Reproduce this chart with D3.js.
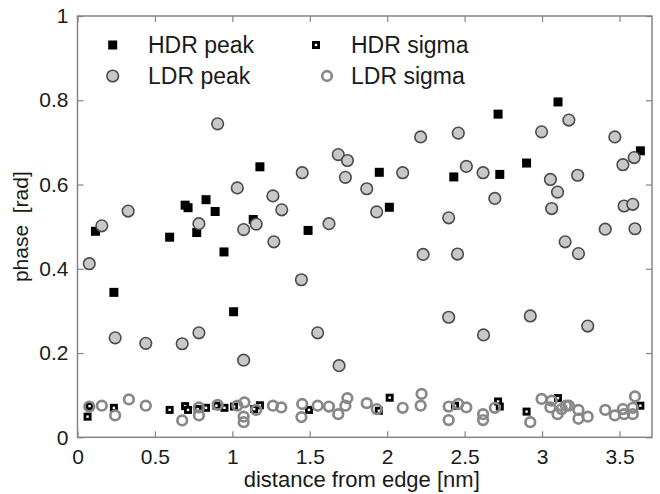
<!DOCTYPE html>
<html><head><meta charset="utf-8">
<script src="https://cdn.jsdelivr.net/npm/d3@7"></script>
<style>
body{margin:0;background:#fff;}
svg text{font-family:"Liberation Sans",Arial,Helvetica,sans-serif;}
</style></head>
<body><svg id="c" width="660" height="494"></svg>
<script>
const hdrPeakX = [0.116,0.235,0.595,0.695,0.714,0.770,0.830,0.889,0.946,1.008,1.135,1.178,1.489,1.949,2.014,2.430,2.716,2.727,2.900,3.103,3.635];
const hdrPeakY = [0.489,0.344,0.475,0.551,0.545,0.486,0.564,0.536,0.440,0.298,0.517,0.642,0.491,0.629,0.546,0.618,0.767,0.624,0.651,0.796,0.680];

const ldrPeakX = [0.076,0.157,0.243,0.327,0.441,0.676,0.784,0.784,0.905,1.032,1.073,1.073,1.154,1.262,1.268,1.319,1.446,1.451,1.551,1.624,1.684,1.689,1.730,1.743,1.868,1.932,2.100,2.216,2.232,2.397,2.397,2.459,2.454,2.511,2.619,2.622,2.695,2.924,2.997,3.054,3.062,3.100,3.149,3.173,3.235,3.230,3.295,3.408,3.470,3.522,3.530,3.586,3.595,3.600];
const ldrPeakY = [0.412,0.502,0.236,0.537,0.223,0.222,0.248,0.507,0.744,0.592,0.493,0.183,0.506,0.573,0.464,0.540,0.374,0.628,0.248,0.507,0.671,0.170,0.617,0.657,0.590,0.535,0.628,0.713,0.434,0.521,0.285,0.722,0.435,0.643,0.628,0.243,0.567,0.288,0.725,0.612,0.543,0.582,0.464,0.753,0.436,0.622,0.264,0.494,0.713,0.647,0.549,0.553,0.664,0.495];

const hdrSigmaX = [0.065,0.078,0.235,0.595,0.695,0.714,0.776,0.830,0.897,0.949,1.011,1.141,1.178,1.495,1.946,2.016,2.438,2.716,2.727,2.900,3.103,3.635];
const hdrSigmaY = [0.049,0.074,0.070,0.065,0.074,0.065,0.067,0.070,0.075,0.070,0.073,0.067,0.076,0.065,0.063,0.094,0.075,0.085,0.073,0.061,0.093,0.075];

const ldrSigmaX = [0.076,0.157,0.243,0.332,0.441,0.676,0.784,0.784,0.905,1.032,1.078,1.073,1.073,1.154,1.262,1.316,1.451,1.446,1.551,1.624,1.684,1.730,1.743,1.868,1.932,2.100,2.222,2.216,2.397,2.397,2.459,2.511,2.619,2.619,2.695,2.924,2.997,3.054,3.062,3.100,3.127,3.154,3.173,3.235,3.235,3.295,3.408,3.470,3.522,3.530,3.586,3.600,3.586];
const ldrSigmaY = [0.073,0.075,0.052,0.090,0.075,0.040,0.052,0.071,0.077,0.075,0.083,0.049,0.036,0.065,0.075,0.071,0.079,0.048,0.075,0.073,0.055,0.075,0.093,0.081,0.067,0.070,0.103,0.075,0.073,0.041,0.079,0.071,0.055,0.041,0.070,0.036,0.091,0.071,0.087,0.055,0.067,0.075,0.075,0.065,0.044,0.049,0.065,0.052,0.067,0.055,0.055,0.097,0.070];

const xTicks = [0,0.5,1,1.5,2,2.5,3,3.5];
const yTicks = [0,0.2,0.4,0.6,0.8,1];
const xTickLabels = ["0","0.5","1","1.5","2","2.5","3","3.5"];
const yTickLabels = ["0","0.2","0.4","0.6","0.8","1"];

const L = 77.5, R = 652, T = 16, B = 437.3;
const svg = d3.select("#c");
const x = d3.scaleLinear().domain([0, 3.71]).range([L, R]);
const y = d3.scaleLinear().domain([0, 1]).range([B, T]);
const axisColor = "#858585";

const g = svg.append("g");

function styleAxis(sel){
  sel.select(".domain").remove();
  sel.selectAll(".tick line").attr("stroke", axisColor).attr("stroke-width", 1.2);
  sel.selectAll(".tick text").attr("fill", "#1a1a1a").style("font-size", "21px");
}
g.append("g").attr("transform", `translate(0,${B})`)
  .call(d3.axisBottom(x).tickValues(xTicks).tickFormat((d,i)=>xTickLabels[i]).tickSize(-6).tickPadding(12))
  .call(styleAxis);
g.append("g").attr("transform", `translate(0,${T})`)
  .call(d3.axisTop(x).tickValues(xTicks).tickFormat("").tickSize(-6))
  .call(styleAxis);
g.append("g").attr("transform", `translate(${L},0)`)
  .call(d3.axisLeft(y).tickValues(yTicks).tickFormat((d,i)=>yTickLabels[i]).tickSize(-6).tickPadding(9))
  .call(styleAxis);
g.append("g").attr("transform", `translate(${R},0)`)
  .call(d3.axisRight(y).tickValues(yTicks).tickFormat("").tickSize(-6))
  .call(styleAxis);

svg.append("rect").attr("x", L).attr("y", T).attr("width", R-L).attr("height", B-T)
  .attr("fill","none").attr("stroke", axisColor).attr("stroke-width", 1.5);

const hp = hdrPeakX.map((v,i)=>({x:v,y:hdrPeakY[i]}));
const lp = ldrPeakX.map((v,i)=>({x:v,y:ldrPeakY[i]}));
const hs = hdrSigmaX.map((v,i)=>({x:v,y:hdrSigmaY[i]}));
const ls = ldrSigmaX.map((v,i)=>({x:v,y:ldrSigmaY[i]}));

const S = 9;
function hdrPeak(sel){ sel.append("rect").attr("x",-S/2).attr("y",-S/2).attr("width",S).attr("height",S).attr("fill","#000"); }
function ldrPeak(sel){ sel.append("circle").attr("r",5.8).attr("fill","#c8c8c8").attr("stroke","#4a4a4a").attr("stroke-width",1.6); }
function hdrSigma(sel){
  sel.append("rect").attr("x",-4).attr("y",-4).attr("width",8).attr("height",8).attr("fill","#000");
  sel.append("rect").attr("x",-1.2).attr("y",-1.2).attr("width",2.4).attr("height",2.4).attr("fill","#fff");
}
function ldrSigma(sel){ sel.append("circle").attr("r",4.8).attr("fill","none").attr("stroke","#888").attr("stroke-width",2.7); }

function plot(data, fn){
  svg.append("g").selectAll("g").data(data).join("g")
    .attr("transform", d=>`translate(${x(d.x)},${y(d.y)})`)
    .each(function(){ fn(d3.select(this)); });
}
plot(hp, hdrPeak);
plot(lp, ldrPeak);
plot(hs, hdrSigma);
plot(ls, ldrSigma);

const leg = svg.append("g");
const legItems = [
  {mx:112.7, my:45, tx:148, ty:53, label:"HDR peak", fn:hdrPeak},
  {mx:112.7, my:76, tx:148, ty:84, label:"LDR peak", fn:ldrPeak},
  {mx:316, my:45, tx:351, ty:53, label:"HDR sigma", fn:hdrSigma},
  {mx:327, my:76, tx:351, ty:84, label:"LDR sigma", fn:ldrSigma}
];
legItems.forEach(it=>{
  const m = leg.append("g").attr("transform",`translate(${it.mx},${it.my})`);
  it.fn(m);
  leg.append("text").attr("x",it.tx).attr("y",it.ty).attr("fill","#1a1a1a")
    .style("font-size","23px").text(it.label);
});

svg.append("text").attr("x", (L+R)/2 - 3).attr("y", 487).attr("text-anchor","middle")
  .attr("fill","#1a1a1a").style("font-size","22px").text("distance from edge [nm]");
svg.append("text").attr("transform", `translate(28,${(T+B)/2}) rotate(-90)`).attr("text-anchor","middle")
  .attr("fill","#1a1a1a").style("font-size","21px").style("white-space","pre").text("phase  [rad]");
</script></body></html>
